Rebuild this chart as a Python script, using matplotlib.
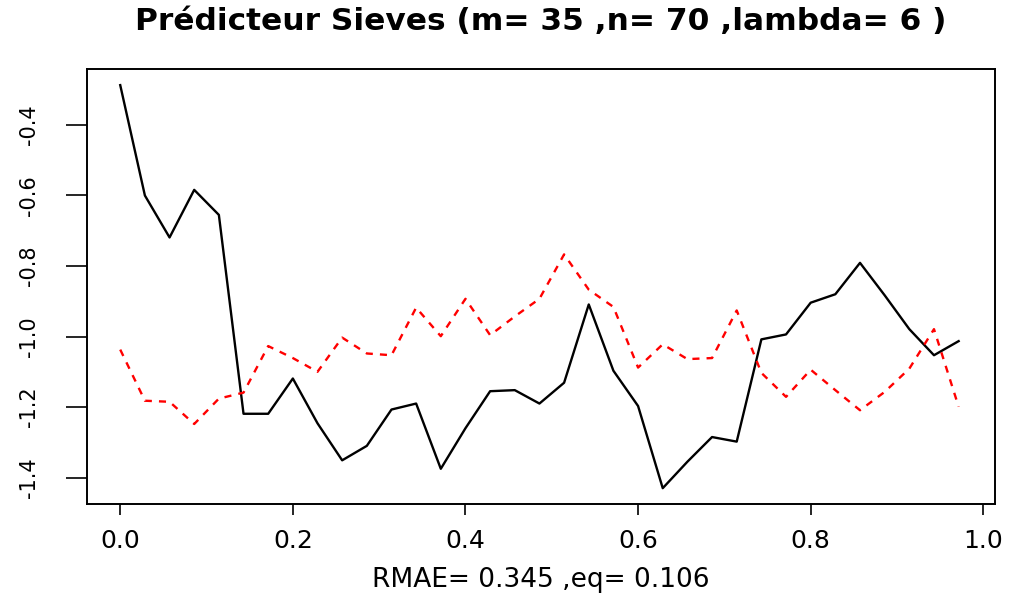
import numpy as np
import matplotlib
matplotlib.use("Agg")
import matplotlib.pyplot as plt

# valeurs (m = 35 points sur [0, 1))
m = 35
x = np.arange(m) / m

vraie = [-0.287, -0.600, -0.719, -0.584, -0.655, -1.219, -1.219, -1.119, -1.246, -1.351,
         -1.310, -1.207, -1.190, -1.375, -1.260, -1.155, -1.152, -1.190, -1.131, -0.909,
         -1.097, -1.197, -1.430, -1.355, -1.285, -1.298, -1.008, -0.994, -0.904, -0.880,
         -0.791, -0.883, -0.979, -1.053, -1.013]

pred = [-1.037, -1.182, -1.185, -1.248, -1.176, -1.159, -1.027, -1.061, -1.100, -1.003,
        -1.048, -1.053, -0.918, -0.999, -0.893, -0.996, -0.943, -0.893, -0.767, -0.867,
        -0.916, -1.088, -1.022, -1.064, -1.061, -0.926, -1.103, -1.171, -1.094, -1.152,
        -1.209, -1.157, -1.091, -0.979, -1.199]

xticks = [0.0, 0.2, 0.4, 0.6, 0.8, 1.0]
yticks = [-0.4, -0.6, -0.8, -1.0, -1.2, -1.4]

titre = "Prédicteur Sieves (m= 35 ,n= 70 ,lambda= 6 )"
xlab = "RMAE= 0.345 ,eq= 0.106"

plt.rcParams['axes.unicode_minus'] = False
plt.rcParams['font.family'] = ['DejaVu Sans']

fig = plt.figure(figsize=(10.14, 5.98), dpi=100)
ax = fig.add_axes([0.0855, 0.1567, 0.8958, 0.7279])

ax.plot(x, vraie, color='black', lw=1.7)
ax.plot(x, pred, color='red', lw=1.7, ls=(0, (3, 3)))

# marges façon R (4 %)
xr = x.max() - x.min()
ax.set_xlim(x.min() - 0.04 * xr, 1.0136)
allv = vraie + pred
yr = max(allv) - min(allv)
ax.set_ylim(min(allv) - 0.04 * yr, max(allv) + 0.04 * yr)

ax.set_xticks(xticks)
ax.set_xticklabels(["%.1f" % v for v in xticks], fontsize=18)
ax.set_yticks(yticks)
ax.set_yticklabels(["%.1f" % v for v in yticks], fontsize=15, rotation=90, va='center')
ax.tick_params(axis='x', length=8, width=1.2, pad=10)
ax.tick_params(axis='y', length=15, width=1.2, pad=19)

for s in ax.spines.values():
    s.set_linewidth(1.4)

# titre et legende x centres sur la zone de trace (comme R)
xc = 0.0855 + 0.8958 / 2
fig.text(xc, 1 - 22 / 598, titre, ha='center', va='center', fontsize=22.5, fontweight='bold')
fig.text(xc, 1 - 580 / 598, xlab, ha='center', va='center', fontsize=19)

fig.savefig("out.png", dpi=100)
